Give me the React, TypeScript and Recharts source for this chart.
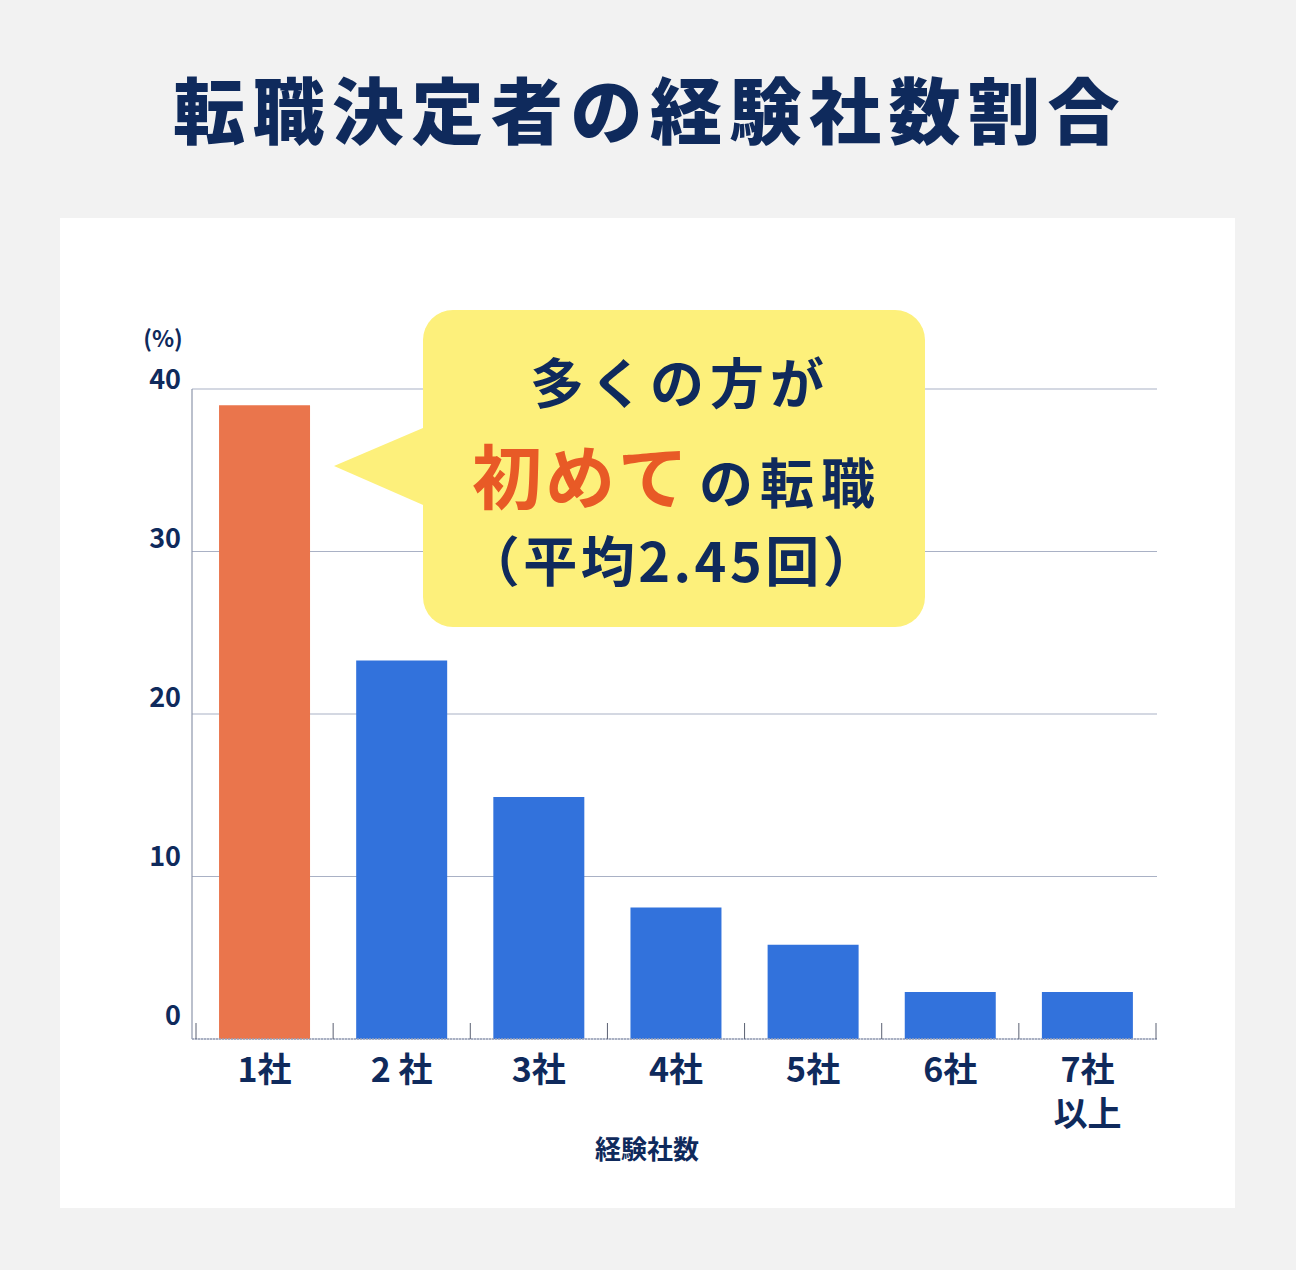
import React from 'react';
import { BarChart, Bar, XAxis, YAxis, CartesianGrid, Cell } from 'recharts';

// 経験社数ごとの割合 (%)
const CATEGORIES = ['1社', '2 社', '3社', '4社', '5社', '6社', '7社\n以上'];
const SHARES = [39.0, 23.3, 14.9, 8.1, 5.8, 2.9, 2.9];
const Y_TICKS = [0, 10, 20, 30, 40];
const HIGHLIGHT = 0;

const data = CATEGORIES.map((name, i) => ({ name, value: SHARES[i] }));

const NAVY = '#0f2a5c';
const ORANGE_BAR = '#ea754c';
const BLUE_BAR = '#3272dc';
const GRID = '#a9b1c5';
const FONT = '"Noto Sans CJK JP", "Noto Sans", sans-serif';

function YTick(props: any) {
  const { x, y, payload } = props;
  const v = Number(payload.value);
  return (
    <text x={x} y={y - (40 - v) * 0.35} textAnchor="end" fill={NAVY} fontSize={27} fontWeight={700} fontFamily={FONT}>
      {payload.value}
    </text>
  );
}

function XTick(props: any) {
  const { x, y, payload, index, visibleTicksCount } = props;
  const half = payload.offset || 68.5;
  const lines = String(payload.value).split('\n');
  return (
    <g>
      <line x1={x - half} x2={x - half} y1={y - 16} y2={y} stroke="#5a6072" strokeWidth={1} />
      {index === visibleTicksCount - 1 && (
        <line x1={x + half} x2={x + half} y1={y - 16} y2={y} stroke="#5a6072" strokeWidth={1} />
      )}
      <text x={x} y={y + 43} textAnchor="middle" fill={NAVY} fontSize={34} fontWeight={700} fontFamily={FONT}>
        {lines.map((l, i) => (
          <tspan key={i} x={x} dy={i === 0 ? 0 : 44}>{l}</tspan>
        ))}
      </text>
    </g>
  );
}

export default function App() {
  return (
    <div style={{ position: 'absolute', left: 0, top: 0, width: 1296, height: 1270, background: '#f2f2f2', fontFamily: FONT, overflow: 'hidden' }}>
      {/* white panel */}
      <div style={{ position: 'absolute', left: 60, top: 218, width: 1175, height: 990, background: '#fff' }} />

      <div style={{ position: 'absolute', left: 0, top: 0 }}>
        <BarChart width={1296} height={1270} data={data} margin={{ top: 389, right: 139, bottom: 171, left: 132 }} barCategoryGap="16.8%">
          <CartesianGrid vertical={false} stroke={GRID} strokeWidth={1.2} />
          <YAxis
            type="number"
            domain={[0, 40]}
            ticks={Y_TICKS}
            width={60}
            tickSize={0}
            tickMargin={11}
            tickLine={false}
            axisLine={{ stroke: '#8e96ab', strokeWidth: 1.2 }}
            tick={<YTick />}
          />
          <XAxis
            dataKey="name"
            height={60}
            tickSize={0}
            tickMargin={0}
            tickLine={false}
            interval={0}
            padding={{ left: 4, right: 1 }}
            axisLine={{ stroke: '#9aa3b8', strokeWidth: 1.5, strokeDasharray: '2 1' }}
            tick={<XTick />}
          />
          <Bar dataKey="value" isAnimationActive={false}>
            {data.map((d, i) => (
              <Cell key={d.name} fill={i === HIGHLIGHT ? ORANGE_BAR : BLUE_BAR} />
            ))}
          </Bar>
        </BarChart>
      </div>

      {/* title, axis captions and callout */}
      <svg width={1296} height={1270} style={{ position: 'absolute', left: 0, top: 0, pointerEvents: 'none' }} fontFamily={FONT}>
        <text x={650} y={138} textAnchor="middle" fill={NAVY} fontSize={72} fontWeight={900} letterSpacing={7.5}>
          転職決定者の経験社数割合
        </text>

        <text x={163} y={347} textAnchor="middle" fill={NAVY} fontSize={23} fontWeight={700}>(%)</text>
        <text x={647} y={1159} textAnchor="middle" fill={NAVY} fontSize={26} fontWeight={700}>経験社数</text>

        <rect x={423} y={310} width={502} height={317} rx={30} ry={30} fill="#fdf07b" />
        <polygon points="334,466 430,425 430,508" fill="#fdf07b" />

        <text x={680} y={404} textAnchor="middle" fill={NAVY} fontSize={54} fontWeight={700} letterSpacing={6}>
          多くの方が
        </text>
        <text x={677} y={504} textAnchor="middle" fontWeight={700}>
          <tspan fill="#e85a26" fontSize={70} letterSpacing={3}>初めて</tspan>
          <tspan fill={NAVY} fontSize={54} letterSpacing={7} dx={8}>の転職</tspan>
        </text>
        <text x={673} y={582} textAnchor="middle" fill={NAVY} fontSize={54} fontWeight={700} letterSpacing={3.5}>
          （平均2.45回）
        </text>
      </svg>
    </div>
  );
}
